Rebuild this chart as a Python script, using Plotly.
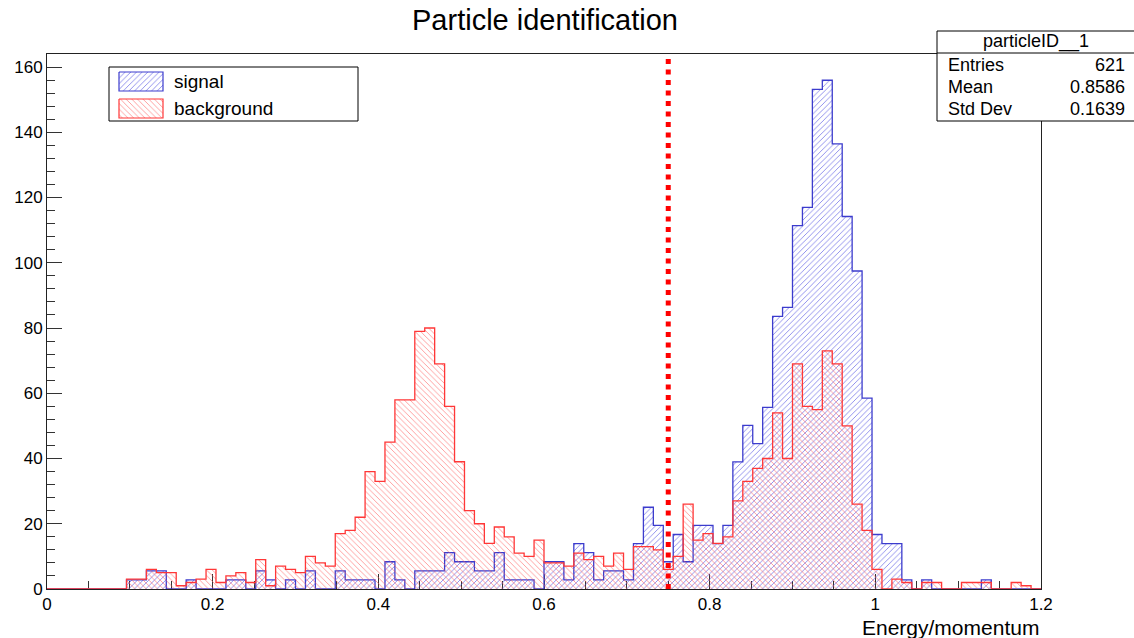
import plotly.graph_objects as go

# ---------------- data ----------------
X_MIN, X_MAX, N_BINS = 0.0, 1.2, 100
BIN_W = (X_MAX - X_MIN) / N_BINS

# raw signal counts per bin (Entries 621), drawn scaled to the background integral
signal_counts = [
    0, 0, 0, 0, 0, 0, 0, 0, 1, 1,
    2, 2, 0, 0, 1, 0, 0, 0, 1, 1,
    0, 2, 1, 0, 1, 0, 2, 0, 0, 2,
    1, 1, 1, 0, 3, 1, 0, 2, 2, 2,
    4, 3, 3, 2, 2, 4, 1, 1, 1, 0,
    3, 3, 1, 5, 4, 1, 2, 2, 1, 5,
    9, 7, 3, 6, 3, 7, 7, 5, 7, 14,
    18, 16, 20, 30, 31, 40, 42, 55, 56, 49,
    41, 35, 21, 6, 5, 5, 1, 0, 1, 0,
    0, 0, 0, 0, 1, 0, 0, 0, 0, 0,
]
SIGNAL_SCALE = 2.785

background_counts = [
    0, 0, 0, 0, 0, 0, 0, 0, 3, 3,
    6, 5, 5, 1, 2, 3, 6, 2, 4, 5,
    2, 9, 1, 7, 6, 5, 10, 8, 7, 17,
    18, 22, 36, 33, 45, 58, 58, 79, 80, 69,
    56, 39, 24, 20, 14, 19, 16, 11, 10, 15,
    8, 8, 7, 11, 9, 10, 7, 11, 6, 13,
    13, 12, 6, 10, 26, 15, 17, 14, 16, 27,
    33, 37, 40, 54, 40, 69, 56, 55, 73, 69,
    50, 26, 18, 6, 0, 3, 2, 0, 2, 2,
    0, 0, 2, 2, 2, 0, 0, 2, 1, 0,
]

CUT_VALUE = 0.75
stats_name = "particleID__1"
stats_rows = [("Entries", "621"), ("Mean", "0.8586"), ("Std Dev", "0.1639")]
x_tick_vals = [0, 0.2, 0.4, 0.6, 0.8, 1.0, 1.2]
x_tick_text = ["0", "0.2", "0.4", "0.6", "0.8", "1", "1.2"]
y_tick_vals = [0, 20, 40, 60, 80, 100, 120, 140, 160]

# ---------------- figure ----------------
W, H = 1134, 638
ML, MR, MT, MB = 47, 93, 54, 49
PW, PH = W - ML - MR, H - MT - MB
FONT = "Liberation Sans, Arial, Helvetica, sans-serif"


def px2paper(px, py):
    return (px - ML) / PW, (H - MB - py) / PH


edges = [X_MIN + i * BIN_W for i in range(N_BINS + 1)]
sig_disp = [c * SIGNAL_SCALE for c in signal_counts]

BLUE_LINE = "rgb(60,60,205)"
BLUE_HATCH = "rgba(80,80,225,0.7)"
RED_LINE = "rgb(255,55,55)"
RED_HATCH = "rgba(255,90,90,0.65)"
HATCH_SIZE = 4
HATCH_SOL = 0.22

fig = go.Figure()

fig.add_trace(go.Scatter(
    x=edges, y=sig_disp + [sig_disp[-1]], mode="lines", line_shape="hv",
    line=dict(color=BLUE_LINE, width=1.3), fill="tozeroy",
    fillcolor="rgba(0,0,0,0)",
    fillpattern=dict(shape="/", fgcolor=BLUE_HATCH, bgcolor="rgba(0,0,0,0)",
                     size=HATCH_SIZE, solidity=HATCH_SOL, fillmode="replace"),
    showlegend=False, hoverinfo="skip"))

fig.add_trace(go.Scatter(
    x=edges, y=background_counts + [background_counts[-1]], mode="lines",
    line_shape="hv", line=dict(color=RED_LINE, width=1.3), fill="tozeroy",
    fillcolor="rgba(0,0,0,0)",
    fillpattern=dict(shape="\\", fgcolor=RED_HATCH, bgcolor="rgba(0,0,0,0)",
                     size=HATCH_SIZE, solidity=HATCH_SOL, fillmode="replace"),
    showlegend=False, hoverinfo="skip"))

# cut line
fig.add_trace(go.Scatter(
    x=[CUT_VALUE, CUT_VALUE], y=[0, 163], mode="lines",
    line=dict(color="rgb(255,0,0)", width=5, dash="5px,5.5px"),
    showlegend=False, hoverinfo="skip"))

# legend patches on an overlay paper-like axis
def patch(px0, py0, px1, py1, shape, fg, lc):
    x0, y0 = px2paper(px0, py0)
    x1, y1 = px2paper(px1, py1)
    fig.add_trace(go.Scatter(
        x=[x0, x1, x1, x0, x0], y=[y0, y0, y1, y1, y0], mode="lines",
        fill="toself", fillcolor="rgba(0,0,0,0)",
        fillpattern=dict(shape=shape, fgcolor=fg, bgcolor="rgba(0,0,0,0)",
                         size=HATCH_SIZE, solidity=HATCH_SOL, fillmode="replace"),
        line=dict(color=lc, width=1.2), xaxis="x2", yaxis="y2",
        showlegend=False, hoverinfo="skip"))

patch(119, 72, 163, 91, "/", BLUE_HATCH, BLUE_LINE)
patch(119, 99, 163, 118, "\\", RED_HATCH, RED_LINE)

shapes = []
annotations = []

# legend box
lx0, ly0 = px2paper(109, 121)
lx1, ly1 = px2paper(358, 67)
shapes.append(dict(type="rect", xref="paper", yref="paper", x0=lx0, y0=ly0,
                   x1=lx1, y1=ly1, line=dict(color="black", width=1),
                   fillcolor="rgba(0,0,0,0)", layer="below"))
for label, py in (("signal", 81), ("background", 108)):
    ax, ay = px2paper(172, py)
    annotations.append(dict(x=ax, y=ay, xref="paper", yref="paper", text=label,
                            showarrow=False, xanchor="left", yanchor="middle",
                            font=dict(family=FONT, size=19, color="black")))

# stats box
sx0, sy0 = px2paper(937, 121)
sx1, sy1 = px2paper(1140, 31)
_, sdiv = px2paper(0, 53)
shapes.append(dict(type="rect", xref="paper", yref="paper", x0=sx0, y0=sy0,
                   x1=sx1, y1=sy1, line=dict(color="black", width=1),
                   fillcolor="white", layer="above"))
shapes.append(dict(type="line", xref="paper", yref="paper", x0=sx0, y0=sdiv,
                   x1=sx1, y1=sdiv, line=dict(color="black", width=1),
                   layer="above"))
hx, hy = px2paper(1036, 42)
annotations.append(dict(x=hx, y=hy, xref="paper", yref="paper", text=stats_name,
                        showarrow=False, xanchor="center", yanchor="middle",
                        font=dict(family=FONT, size=18, color="black")))
for (lab, val), py in zip(stats_rows, (65, 87, 109)):
    ax, ay = px2paper(946, py)
    bx, _ = px2paper(1127, py)
    annotations.append(dict(x=ax, y=ay, xref="paper", yref="paper", text=lab,
                            showarrow=False, xanchor="left", yanchor="middle",
                            font=dict(family=FONT, size=18, color="black")))
    annotations.append(dict(x=bx, y=ay, xref="paper", yref="paper", text=val,
                            showarrow=False, xanchor="right", yanchor="middle",
                            font=dict(family=FONT, size=18, color="black")))

# title and axis title
tx, ty = px2paper(545, 20)
annotations.append(dict(x=tx, y=ty, xref="paper", yref="paper",
                        text="Particle identification", showarrow=False,
                        xanchor="center", yanchor="middle",
                        font=dict(family=FONT, size=29, color="black")))
ex, ey = px2paper(1041, 627)
annotations.append(dict(x=ex, y=ey, xref="paper", yref="paper",
                        text="Energy/momentum", showarrow=False,
                        xanchor="right", yanchor="middle",
                        font=dict(family=FONT, size=21, color="black")))

fig.update_layout(
    width=W, height=H,
    margin=dict(l=ML, r=MR, t=MT, b=MB, pad=0),
    paper_bgcolor="white", plot_bgcolor="white",
    font=dict(family=FONT, size=16, color="black"),
    shapes=shapes, annotations=annotations,
    xaxis=dict(range=[X_MIN, X_MAX], tickvals=x_tick_vals, ticktext=x_tick_text,
               ticks="inside", ticklen=15, tickwidth=1, tickcolor="#333",
               minor=dict(dtick=0.05, ticks="inside", ticklen=8,
                          tickcolor="#333", tickwidth=1),
               showgrid=False, zeroline=False, showline=True, mirror=True,
               linecolor="#222", linewidth=1, layer="below traces",
               tickfont=dict(family=FONT, size=17, color="black")),
    yaxis=dict(range=[0, 164], tickvals=y_tick_vals,
               ticks="inside", ticklen=15, tickwidth=1, tickcolor="#333",
               minor=dict(dtick=4, ticks="inside", ticklen=8,
                          tickcolor="#333", tickwidth=1),
               showgrid=False, zeroline=False, showline=True, mirror=True,
               linecolor="#222", linewidth=1, layer="below traces",
               tickfont=dict(family=FONT, size=17, color="black")),
    xaxis2=dict(overlaying="x", range=[0, 1], visible=False, domain=[0, 1]),
    yaxis2=dict(overlaying="y", range=[0, 1], visible=False, domain=[0, 1]),
)

fig.write_html("out.html")
